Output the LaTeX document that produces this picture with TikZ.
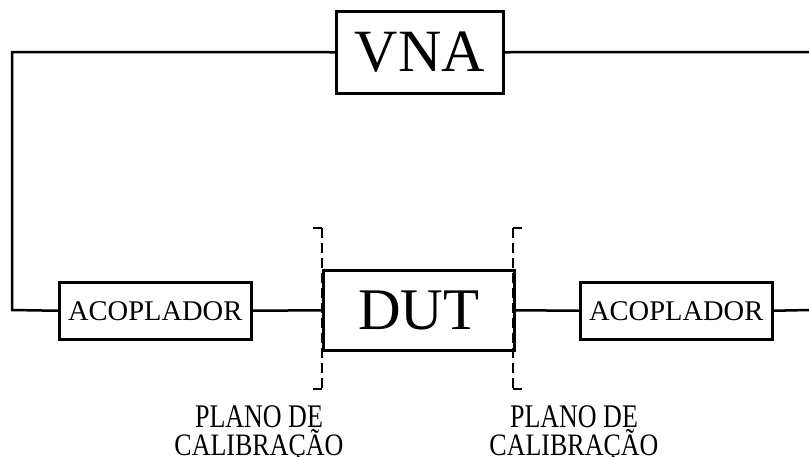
\documentclass[tikz,border=0pt]{standalone}
\usepackage{fontspec}
\setmainfont{Liberation Serif}
\begin{document}
\begin{tikzpicture}[x=1pt,y=-1pt,line width=2.5pt,
  blk/.style={draw,line width=2.5pt,inner sep=0pt,anchor=north west},
  plane/.style={line width=2.2pt,dash pattern=on 10pt off 5pt},
  lbl/.style={inner sep=0pt,anchor=base,font=\fontsize{26}{26}\selectfont}]
\useasboundingbox (0,0) rectangle (809,456);
\node[blk,minimum width=167pt,minimum height=82pt,font=\fontsize{60}{60}\selectfont] (vna) at (335,10) {VNA};
\node[blk,minimum width=192pt,minimum height=57pt,font=\fontsize{28.5}{28.5}\selectfont] (acl) at (58,281) {ACOPLADOR};
\node[blk,minimum width=191pt,minimum height=80pt,font=\fontsize{59}{59}\selectfont] (dut) at (322,269) {DUT};
\node[blk,minimum width=192pt,minimum height=57pt,font=\fontsize{28.5}{28.5}\selectfont] (acr) at (579,281) {ACOPLADOR};
\coordinate (tl) at (12,52);
\coordinate (bl) at (12,310);
\coordinate (tr) at (809,52);
\coordinate (br) at (809,310);
\draw (vna.west) -- (tl) -- (bl) -- (acl.west);
\draw (vna.east) -- (tr);
\draw (acl.east) -- (dut.west);
\draw (dut.east) -- (acr.west);
\draw (acr.east) -- (br);
% calibration planes
\coordinate (lpt) at (322,228);
\coordinate (lpb) at (322,389);
\coordinate (rpt) at (513,228);
\coordinate (rpb) at (513,389);
\draw[plane] (lpt) -- (lpb);
\draw[plane] (rpt) -- (rpb);
\draw[line width=2.2pt] ([xshift=-9pt]lpt) -- (lpt);
\draw[line width=2.2pt] ([xshift=-9pt]lpb) -- (lpb);
\draw[line width=2.2pt] ([xshift=9pt]rpt) -- (rpt);
\draw[line width=2.2pt] ([xshift=9pt]rpb) -- (rpb);
\node[lbl] (ll1) at (259,427) {\scalebox{1}[1.27]{PLANO DE}};
\node[lbl] (ll2) at (259,455) {\scalebox{1}[1.2]{CALIBRAÇÃO}};
\node[lbl] (rl1) at (574,427) {\scalebox{1}[1.27]{PLANO DE}};
\node[lbl] (rl2) at (574,455) {\scalebox{1}[1.2]{CALIBRAÇÃO}};
\end{tikzpicture}
\end{document}
